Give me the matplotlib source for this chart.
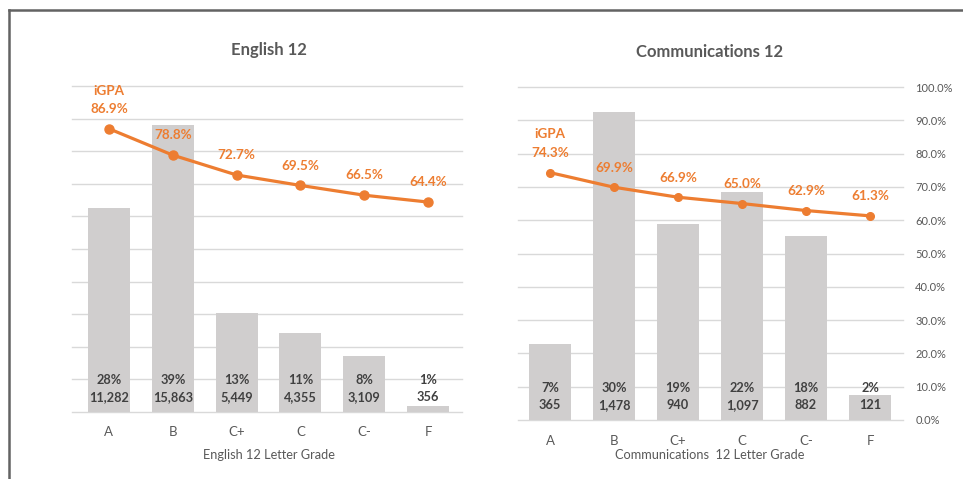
import matplotlib
matplotlib.use("Agg")
import matplotlib.pyplot as plt
from matplotlib.lines import Line2D

plt.rcParams['font.family'] = ['Lato', 'DejaVu Sans']

# ---- data -------------------------------------------------------------
grades = ["A", "B", "C+", "C", "C-", "F"]

eng_counts = [11282, 15863, 5449, 4355, 3109, 356]
eng_share = ["28%", "39%", "13%", "11%", "8%", "1%"]
eng_igpa = [86.9, 78.8, 72.7, 69.5, 66.5, 64.4]

com_counts = [365, 1478, 940, 1097, 882, 121]
com_share = ["7%", "30%", "19%", "22%", "18%", "2%"]
com_igpa = [74.3, 69.9, 66.9, 65.0, 62.9, 61.3]

pct_ticks = [0, 10, 20, 30, 40, 50, 60, 70, 80, 90, 100]

# ---- style ------------------------------------------------------------
BAR = "#D0CECE"
ORANGE = "#ED7D31"
GRID = "#D9D9D9"
TEXT = "#595959"
DARK = "#404040"

fig = plt.figure(figsize=(9.63, 4.79), dpi=100)
W, H = 963, 479


def frac_box(x0, x1, ytop, ybase):
    return [x0 / W, 1 - ybase / H, (x1 - x0) / W, (ybase - ytop) / H]


def panel(rect, title, counts, shares, igpa, bar_max, xlabel,
          show_pct_axis, tick_pad, label_pad, title_y, grid_ext, ms):
    ax = fig.add_axes(rect)
    x = list(range(len(grades)))
    ax.set_xlim(-0.5, len(grades) - 0.5)
    ax.set_ylim(0, bar_max)

    # horizontal grid in 10% steps, behind the bars
    for p in pct_ticks:
        ax.axhline(p / 100 * bar_max, xmin=grid_ext[0], xmax=grid_ext[1],
                   color=GRID, lw=1.0, zorder=0, clip_on=False)

    ax.bar(x, counts, width=0.66, color=BAR, zorder=2)

    for xi, c, s in zip(x, counts, shares):
        ax.annotate(s, (xi, 0), xytext=(0, 23), textcoords="offset points",
                    ha="center", va="center", fontsize=9.2,
                    fontweight="bold", color=DARK, zorder=3)
        ax.annotate(f"{c:,}", (xi, 0), xytext=(0, 10.8),
                    textcoords="offset points", ha="center", va="center",
                    fontsize=9.2, fontweight="bold", color=DARK, zorder=3)

    ax.set_xticks(x)
    ax.set_xticklabels(grades, fontsize=9.5, color=TEXT)
    ax.tick_params(axis="x", length=0, pad=tick_pad)
    ax.set_yticks([])
    for sp in ax.spines.values():
        sp.set_visible(False)
    ax.set_xlabel(xlabel, fontsize=9.2, color=TEXT, labelpad=label_pad)
    ax.patch.set_alpha(0)

    ax2 = ax.twinx()
    ax2.set_ylim(0, 100)
    ax2.plot(x, igpa, color=ORANGE, lw=2.3, marker="o", ms=ms,
             solid_capstyle="round", zorder=4)
    for i, (xi, v) in enumerate(zip(x, igpa)):
        ax2.annotate(f"{v:.1f}%", (xi, v), xytext=(0, 14.2),
                     textcoords="offset points", ha="center", va="center",
                     fontsize=9.7, fontweight="bold", color=ORANGE)
        if i == 0:
            ax2.annotate("iGPA", (xi, v), xytext=(0, 27.5),
                         textcoords="offset points", ha="center",
                         va="center", fontsize=9.7, fontweight="bold",
                         color=ORANGE)
    for sp in ax2.spines.values():
        sp.set_visible(False)
    if show_pct_axis:
        ax2.set_yticks(pct_ticks)
        ax2.set_yticklabels([f"{p:.1f}%" for p in pct_ticks],
                            fontsize=8, color=TEXT)
        ax2.tick_params(axis="y", length=0, pad=9.5)
    else:
        ax2.set_yticks([])

    fig.text((rect[0] + rect[2] / 2), 1 - title_y / H, title,
             ha="center", va="center", fontsize=12, fontweight="bold",
             color=TEXT)
    return ax, ax2


panel(frac_box(77, 460, 86, 412), "English 12", eng_counts, eng_share,
      eng_igpa, 18000, "English 12 Letter Grade", False,
      tick_pad=10.4, label_pad=7.5, title_y=50, grid_ext=(-0.013, 1.005),
      ms=6.5)

panel(frac_box(518, 902, 87, 420), "Communications 12", com_counts,
      com_share, com_igpa, 1600, "Communications  12 Letter Grade", True,
      tick_pad=11, label_pad=1.0, title_y=52, grid_ext=(0.0, 1.003),
      ms=5.5)

# outer frame (top and left edges)
frame = "#636363"
fig.add_artist(Line2D([8.5 / W, 1.0], [1 - 10 / H, 1 - 10 / H],
                      transform=fig.transFigure, color=frame, lw=1.8))
fig.add_artist(Line2D([8.5 / W, 8.5 / W], [1 - 10 / H, 0.0],
                      transform=fig.transFigure, color=frame, lw=1.8))

fig.savefig("out.png", dpi=100)
